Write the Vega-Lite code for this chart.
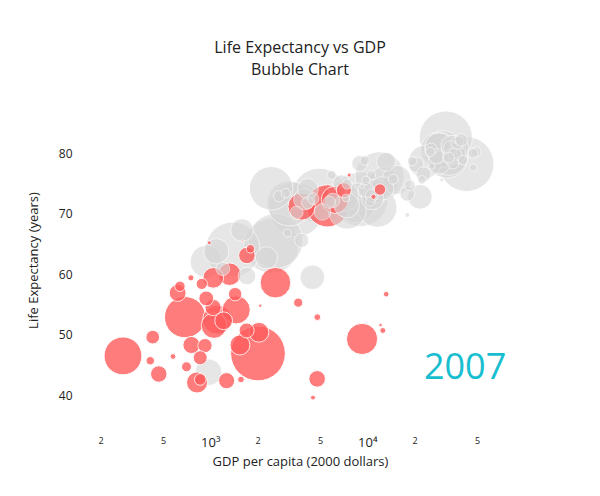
{
  "$schema": "https://vega.github.io/schema/vega-lite/v6.json",
  "width": 440,
  "height": 320,
  "autosize": "none",
  "padding": {"left": 80, "top": 100, "right": 80, "bottom": 76},
  "background": "white",
  "title": {"text": ["Life Expectancy vs GDP", "Bubble Chart"], "font": "Open Sans", "fontSize": 16, "fontWeight": "normal", "color": "#222", "offset": 22, "lineHeight": 22},
  "config": {"view": {"stroke": null}, "font": "Open Sans"},
  "datasets": {
    "countries": [
      {"country": "Algeria", "gdp": 6223, "life": 72.3, "pop": 33.3, "africa": "yes"},
      {"country": "Angola", "gdp": 4797, "life": 42.7, "pop": 12.4, "africa": "yes"},
      {"country": "Benin", "gdp": 1441, "life": 56.7, "pop": 8.1, "africa": "yes"},
      {"country": "Botswana", "gdp": 12570, "life": 50.7, "pop": 1.6, "africa": "yes"},
      {"country": "Burkina Faso", "gdp": 1217, "life": 52.3, "pop": 14.3, "africa": "yes"},
      {"country": "Burundi", "gdp": 430, "life": 49.6, "pop": 8.4, "africa": "yes"},
      {"country": "Cameroon", "gdp": 2042, "life": 50.4, "pop": 17.7, "africa": "yes"},
      {"country": "Central African Republic", "gdp": 706, "life": 44.7, "pop": 4.4, "africa": "yes"},
      {"country": "Chad", "gdp": 1704, "life": 50.7, "pop": 10.2, "africa": "yes"},
      {"country": "Comoros", "gdp": 986, "life": 65.2, "pop": 0.7, "africa": "yes"},
      {"country": "Congo, Dem. Rep.", "gdp": 278, "life": 46.5, "pop": 64.6, "africa": "yes"},
      {"country": "Congo, Rep.", "gdp": 3633, "life": 55.3, "pop": 3.8, "africa": "yes"},
      {"country": "Cote d'Ivoire", "gdp": 1545, "life": 48.3, "pop": 18.0, "africa": "yes"},
      {"country": "Djibouti", "gdp": 2082, "life": 54.8, "pop": 0.5, "africa": "yes"},
      {"country": "Egypt", "gdp": 5581, "life": 71.3, "pop": 80.3, "africa": "yes"},
      {"country": "Equatorial Guinea", "gdp": 12154, "life": 51.6, "pop": 0.55, "africa": "yes"},
      {"country": "Eritrea", "gdp": 641, "life": 58.0, "pop": 4.9, "africa": "yes"},
      {"country": "Ethiopia", "gdp": 691, "life": 52.9, "pop": 76.5, "africa": "yes"},
      {"country": "Gabon", "gdp": 13206, "life": 56.7, "pop": 1.45, "africa": "yes"},
      {"country": "Gambia", "gdp": 753, "life": 59.4, "pop": 1.7, "africa": "yes"},
      {"country": "Ghana", "gdp": 1328, "life": 60.0, "pop": 22.9, "africa": "yes"},
      {"country": "Guinea", "gdp": 943, "life": 56.0, "pop": 9.9, "africa": "yes"},
      {"country": "Guinea-Bissau", "gdp": 579, "life": 46.4, "pop": 1.5, "africa": "yes"},
      {"country": "Kenya", "gdp": 1463, "life": 54.1, "pop": 35.6, "africa": "yes"},
      {"country": "Lesotho", "gdp": 1569, "life": 42.6, "pop": 2.0, "africa": "yes"},
      {"country": "Liberia", "gdp": 415, "life": 45.7, "pop": 3.2, "africa": "yes"},
      {"country": "Libya", "gdp": 12057, "life": 74.0, "pop": 6.0, "africa": "yes"},
      {"country": "Madagascar", "gdp": 1045, "life": 59.4, "pop": 19.2, "africa": "yes"},
      {"country": "Malawi", "gdp": 759, "life": 48.3, "pop": 13.3, "africa": "yes"},
      {"country": "Mali", "gdp": 1042, "life": 54.5, "pop": 12.0, "africa": "yes"},
      {"country": "Mauritania", "gdp": 1803, "life": 64.2, "pop": 3.3, "africa": "yes"},
      {"country": "Mauritius", "gdp": 10957, "life": 72.8, "pop": 1.25, "africa": "yes"},
      {"country": "Morocco", "gdp": 3820, "life": 71.2, "pop": 33.8, "africa": "yes"},
      {"country": "Mozambique", "gdp": 824, "life": 42.1, "pop": 20.0, "africa": "yes"},
      {"country": "Namibia", "gdp": 4811, "life": 52.9, "pop": 2.05, "africa": "yes"},
      {"country": "Niger", "gdp": 620, "life": 56.9, "pop": 12.9, "africa": "yes"},
      {"country": "Nigeria", "gdp": 2014, "life": 46.9, "pop": 135.0, "africa": "yes"},
      {"country": "Reunion", "gdp": 7670, "life": 76.4, "pop": 0.8, "africa": "yes"},
      {"country": "Rwanda", "gdp": 863, "life": 46.2, "pop": 8.9, "africa": "yes"},
      {"country": "Sao Tome and Principe", "gdp": 1598, "life": 65.5, "pop": 0.2, "africa": "yes"},
      {"country": "Senegal", "gdp": 1712, "life": 63.1, "pop": 12.3, "africa": "yes"},
      {"country": "Sierra Leone", "gdp": 863, "life": 42.6, "pop": 6.1, "africa": "yes"},
      {"country": "Somalia", "gdp": 926, "life": 48.2, "pop": 9.1, "africa": "yes"},
      {"country": "South Africa", "gdp": 9270, "life": 49.3, "pop": 44.0, "africa": "yes"},
      {"country": "Sudan", "gdp": 2602, "life": 58.6, "pop": 42.3, "africa": "yes"},
      {"country": "Swaziland", "gdp": 4513, "life": 39.6, "pop": 1.1, "africa": "yes"},
      {"country": "Tanzania", "gdp": 1107, "life": 52.5, "pop": 38.1, "africa": "yes"},
      {"country": "Togo", "gdp": 883, "life": 58.4, "pop": 5.7, "africa": "yes"},
      {"country": "Tunisia", "gdp": 7093, "life": 73.9, "pop": 10.3, "africa": "yes"},
      {"country": "Uganda", "gdp": 1056, "life": 51.5, "pop": 29.2, "africa": "yes"},
      {"country": "Zambia", "gdp": 1271, "life": 42.4, "pop": 11.7, "africa": "yes"},
      {"country": "Zimbabwe", "gdp": 470, "life": 43.5, "pop": 12.3, "africa": "yes"},
      {"country": "China", "gdp": 4959, "life": 73.0, "pop": 1318, "africa": "no"},
      {"country": "India", "gdp": 2452, "life": 64.7, "pop": 1110, "africa": "no"},
      {"country": "United States", "gdp": 42952, "life": 78.2, "pop": 301, "africa": "no"},
      {"country": "Indonesia", "gdp": 3541, "life": 70.7, "pop": 223, "africa": "no"},
      {"country": "Brazil", "gdp": 9066, "life": 72.4, "pop": 190, "africa": "no"},
      {"country": "Pakistan", "gdp": 2606, "life": 65.5, "pop": 169, "africa": "no"},
      {"country": "Bangladesh", "gdp": 1391, "life": 64.1, "pop": 150, "africa": "no"},
      {"country": "Japan", "gdp": 31656, "life": 82.6, "pop": 127, "africa": "no"},
      {"country": "Mexico", "gdp": 11978, "life": 76.2, "pop": 108, "africa": "no"},
      {"country": "Philippines", "gdp": 3190, "life": 71.7, "pop": 91, "africa": "no"},
      {"country": "Vietnam", "gdp": 2442, "life": 74.2, "pop": 85, "africa": "no"},
      {"country": "Germany", "gdp": 32170, "life": 79.4, "pop": 82, "africa": "no"},
      {"country": "Iran", "gdp": 11606, "life": 71.0, "pop": 69, "africa": "no"},
      {"country": "Turkey", "gdp": 8458, "life": 71.8, "pop": 71, "africa": "no"},
      {"country": "Thailand", "gdp": 7458, "life": 70.6, "pop": 65, "africa": "no"},
      {"country": "France", "gdp": 30470, "life": 80.7, "pop": 61, "africa": "no"},
      {"country": "United Kingdom", "gdp": 33203, "life": 79.4, "pop": 60.8, "africa": "no"},
      {"country": "Italy", "gdp": 28570, "life": 80.5, "pop": 58, "africa": "no"},
      {"country": "Korea, Rep.", "gdp": 23348, "life": 78.6, "pop": 49, "africa": "no"},
      {"country": "Myanmar", "gdp": 944, "life": 62.1, "pop": 47.8, "africa": "no"},
      {"country": "Colombia", "gdp": 7007, "life": 72.9, "pop": 44, "africa": "no"},
      {"country": "Spain", "gdp": 28821, "life": 80.9, "pop": 40, "africa": "no"},
      {"country": "Argentina", "gdp": 12779, "life": 75.3, "pop": 40, "africa": "no"},
      {"country": "Poland", "gdp": 15390, "life": 75.6, "pop": 38.5, "africa": "no"},
      {"country": "Canada", "gdp": 36319, "life": 80.7, "pop": 33, "africa": "no"},
      {"country": "Afghanistan", "gdp": 975, "life": 43.8, "pop": 31.9, "africa": "no"},
      {"country": "Nepal", "gdp": 1091, "life": 63.8, "pop": 28.9, "africa": "no"},
      {"country": "Peru", "gdp": 7409, "life": 71.4, "pop": 28.7, "africa": "no"},
      {"country": "Venezuela", "gdp": 11416, "life": 73.7, "pop": 26, "africa": "no"},
      {"country": "Malaysia", "gdp": 12452, "life": 74.2, "pop": 24.8, "africa": "no"},
      {"country": "Iraq", "gdp": 4471, "life": 59.5, "pop": 27.5, "africa": "no"},
      {"country": "Korea, Dem. Rep.", "gdp": 1593, "life": 67.3, "pop": 23.3, "africa": "no"},
      {"country": "Saudi Arabia", "gdp": 21655, "life": 72.8, "pop": 27.6, "africa": "no"},
      {"country": "Taiwan", "gdp": 28718, "life": 78.4, "pop": 23.2, "africa": "no"},
      {"country": "Australia", "gdp": 34435, "life": 81.2, "pop": 20.4, "africa": "no"},
      {"country": "Romania", "gdp": 10808, "life": 72.5, "pop": 22.3, "africa": "no"},
      {"country": "Yemen", "gdp": 2281, "life": 62.7, "pop": 22.2, "africa": "no"},
      {"country": "Sri Lanka", "gdp": 3970, "life": 72.4, "pop": 20.4, "africa": "no"},
      {"country": "Netherlands", "gdp": 36798, "life": 79.8, "pop": 16.6, "africa": "no"},
      {"country": "Chile", "gdp": 13172, "life": 78.6, "pop": 16.3, "africa": "no"},
      {"country": "Cambodia", "gdp": 1714, "life": 59.7, "pop": 14.1, "africa": "no"},
      {"country": "Syria", "gdp": 4185, "life": 74.1, "pop": 19.3, "africa": "no"},
      {"country": "Guatemala", "gdp": 5186, "life": 70.3, "pop": 12.6, "africa": "no"},
      {"country": "Ecuador", "gdp": 6873, "life": 75.0, "pop": 13.8, "africa": "no"},
      {"country": "Cuba", "gdp": 8948, "life": 78.3, "pop": 11.4, "africa": "no"},
      {"country": "Belgium", "gdp": 33693, "life": 79.4, "pop": 10.4, "africa": "no"},
      {"country": "Greece", "gdp": 27538, "life": 79.5, "pop": 10.7, "africa": "no"},
      {"country": "Czech Republic", "gdp": 22833, "life": 76.5, "pop": 10.2, "africa": "no"},
      {"country": "Portugal", "gdp": 20510, "life": 78.1, "pop": 10.6, "africa": "no"},
      {"country": "Hungary", "gdp": 18009, "life": 73.3, "pop": 10, "africa": "no"},
      {"country": "Sweden", "gdp": 33860, "life": 80.9, "pop": 9, "africa": "no"},
      {"country": "Bolivia", "gdp": 3822, "life": 65.6, "pop": 9.1, "africa": "no"},
      {"country": "Haiti", "gdp": 1202, "life": 60.9, "pop": 8.5, "africa": "no"},
      {"country": "Dominican Republic", "gdp": 6025, "life": 72.2, "pop": 9.3, "africa": "no"},
      {"country": "Austria", "gdp": 36126, "life": 79.8, "pop": 8.2, "africa": "no"},
      {"country": "Switzerland", "gdp": 37506, "life": 81.7, "pop": 7.6, "africa": "no"},
      {"country": "Serbia", "gdp": 9787, "life": 74.0, "pop": 10.2, "africa": "no"},
      {"country": "Bulgaria", "gdp": 10681, "life": 73.0, "pop": 7.3, "africa": "no"},
      {"country": "Honduras", "gdp": 3548, "life": 70.2, "pop": 7.5, "africa": "no"},
      {"country": "Hong Kong", "gdp": 39725, "life": 82.2, "pop": 7.0, "africa": "no"},
      {"country": "Israel", "gdp": 25523, "life": 80.7, "pop": 6.4, "africa": "no"},
      {"country": "Jordan", "gdp": 4519, "life": 72.5, "pop": 6.05, "africa": "no"},
      {"country": "Paraguay", "gdp": 4173, "life": 71.8, "pop": 6.7, "africa": "no"},
      {"country": "El Salvador", "gdp": 5728, "life": 71.9, "pop": 6.9, "africa": "no"},
      {"country": "Nicaragua", "gdp": 2749, "life": 72.9, "pop": 5.7, "africa": "no"},
      {"country": "Denmark", "gdp": 35278, "life": 78.3, "pop": 5.5, "africa": "no"},
      {"country": "Slovak Republic", "gdp": 18678, "life": 74.7, "pop": 5.4, "africa": "no"},
      {"country": "Finland", "gdp": 33207, "life": 79.3, "pop": 5.2, "africa": "no"},
      {"country": "Norway", "gdp": 49357, "life": 80.2, "pop": 4.6, "africa": "no"},
      {"country": "Ireland", "gdp": 40676, "life": 78.9, "pop": 4.1, "africa": "no"},
      {"country": "New Zealand", "gdp": 25185, "life": 80.2, "pop": 4.1, "africa": "no"},
      {"country": "Croatia", "gdp": 14619, "life": 75.7, "pop": 4.5, "africa": "no"},
      {"country": "Lebanon", "gdp": 10461, "life": 72.0, "pop": 4.0, "africa": "no"},
      {"country": "Costa Rica", "gdp": 9645, "life": 78.8, "pop": 4.1, "africa": "no"},
      {"country": "Panama", "gdp": 9809, "life": 75.5, "pop": 3.2, "africa": "no"},
      {"country": "Puerto Rico", "gdp": 19329, "life": 78.7, "pop": 3.9, "africa": "no"},
      {"country": "Uruguay", "gdp": 10611, "life": 76.4, "pop": 3.4, "africa": "no"},
      {"country": "Albania", "gdp": 5937, "life": 76.4, "pop": 3.6, "africa": "no"},
      {"country": "Bosnia and Herzegovina", "gdp": 7446, "life": 74.9, "pop": 4.55, "africa": "no"},
      {"country": "Mongolia", "gdp": 3096, "life": 66.8, "pop": 2.9, "africa": "no"},
      {"country": "Oman", "gdp": 22316, "life": 75.6, "pop": 3.2, "africa": "no"},
      {"country": "Jamaica", "gdp": 7321, "life": 72.6, "pop": 2.8, "africa": "no"},
      {"country": "Kuwait", "gdp": 47307, "life": 77.6, "pop": 2.5, "africa": "no"},
      {"country": "Slovenia", "gdp": 25768, "life": 77.9, "pop": 2.0, "africa": "no"},
      {"country": "Montenegro", "gdp": 9254, "life": 74.5, "pop": 0.68, "africa": "no"},
      {"country": "Bahrain", "gdp": 29796, "life": 75.6, "pop": 0.7, "africa": "no"},
      {"country": "Iceland", "gdp": 36181, "life": 81.8, "pop": 0.3, "africa": "no"},
      {"country": "Trinidad and Tobago", "gdp": 18009, "life": 69.8, "pop": 1.06, "africa": "no"},
      {"country": "Singapore", "gdp": 47143, "life": 80.0, "pop": 4.55, "africa": "no"},
      {"country": "West Bank and Gaza", "gdp": 3025, "life": 73.4, "pop": 4.0, "africa": "no"}
    ],
    "year": [{"label": "2007", "gdp": 42000, "life": 44.5}]
  },
  "layer": [
    {
      "data": {"name": "countries"},
      "mark": {"type": "circle", "stroke": "white", "strokeWidth": 1},
      "encoding": {
        "x": {"field": "gdp", "type": "quantitative",
          "scale": {"type": "log", "domain": [148, 94000], "nice": false},
          "axis": {"title": "GDP per capita (2000 dollars)", "titleFont": "Open Sans", "titleFontSize": 13, "titleFontWeight": "normal", "titleColor": "#222", "titlePadding": 6,
            "values": [200, 500, 1000, 2000, 5000, 10000, 20000, 50000],
            "labelExpr": "datum.value == 1000 ? '10³' : datum.value == 10000 ? '10⁴' : substring(toString(datum.value), 0, 1)",
            "labelFontSize": {"expr": "datum.value == 1000 || datum.value == 10000 ? 13 : 9"},
            "labelColor": "#222", "labelFont": "Open Sans", "labelPadding": 16,
            "domain": false, "ticks": false, "grid": false}},
        "y": {"field": "life", "type": "quantitative",
          "scale": {"domain": [35.9, 88.8], "nice": false, "zero": false},
          "axis": {"title": "Life Expectancy (years)", "titleFont": "Open Sans", "titleFontSize": 13, "titleFontWeight": "normal", "titleColor": "#222", "titlePadding": 18,
            "values": [40, 50, 60, 70, 80], "labelFontSize": 12, "labelColor": "#222", "labelFont": "Open Sans", "labelPadding": 8,
            "domain": false, "ticks": false, "grid": false}},
        "size": {"field": "pop", "type": "quantitative", "legend": null,
          "scale": {"type": "linear", "domain": [0, 135], "range": [0, 3000], "clamp": true}},
        "color": {"field": "africa", "type": "nominal", "legend": null,
          "scale": {"domain": ["yes", "no"], "range": ["#ff5c5c", "#d6d6d6"]}},
        "opacity": {"field": "africa", "type": "nominal", "legend": null,
          "scale": {"domain": ["yes", "no"], "range": [0.8, 0.6]}},
        "order": {"field": "pop", "sort": "descending"},
        "tooltip": [{"field": "country"}, {"field": "gdp"}, {"field": "life"}]
      }
    },
    {
      "data": {"name": "year"},
      "mark": {"type": "text", "font": "Open Sans", "fontSize": 36, "color": "#17becf", "align": "center", "baseline": "middle"},
      "encoding": {
        "x": {"field": "gdp", "type": "quantitative"},
        "y": {"field": "life", "type": "quantitative"},
        "text": {"field": "label"}
      }
    }
  ]
}
